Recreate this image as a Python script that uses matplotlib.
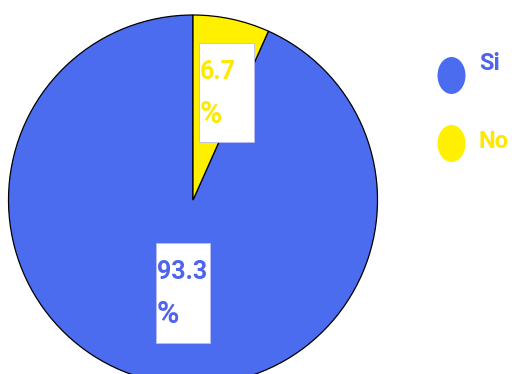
import matplotlib
matplotlib.use("Agg")
import matplotlib.pyplot as plt
from matplotlib.patches import Ellipse, Rectangle

# survey answers
categories = ["Si", "No"]
shares = [93.3, 6.7]
colors = ["#4B6CEF", "#FFF000"]
text_colors = ["#4F63EE", "#FFE800"]

font = ["Roboto", "DejaVu Sans"]

fig = plt.figure(figsize=(5.12, 3.74), dpi=100)

# pie axis: unit radius mapped to pixels (cx, cy, rx, ry)
cx, cy, rx, ry = 193, 200, 184.5, 185
ax = fig.add_axes([0, 0, 1, 1])
ax.pie(shares, colors=colors, startangle=90, counterclock=True, radius=1,
       wedgeprops=dict(edgecolor="black", linewidth=0.9))
ax.set_aspect("auto")
ax.set_xlim(-cx / rx, (512 - cx) / rx)
ax.set_ylim(-(374 - cy) / ry, cy / ry)
ax.axis("off")

# overlay in pixel units for labels and legend
ov = fig.add_axes([0, 0, 1, 1])
ov.set_xlim(0, 512)
ov.set_ylim(374, 0)
ov.axis("off")

# percentage boxes (Si, No)
boxes = [(156, 243, 54, 100), (199, 43, 55, 99)]
for (x, y, w, h), v, tc in zip(boxes, shares, text_colors):
    ov.add_patch(Rectangle((x, y), w, h, facecolor="white",
                           edgecolor="#B8BCF5", linewidth=0.6))
    ov.text(x + 1, y + 36, "%.1f" % v, color=tc, fontsize=18,
            fontweight="bold", family=font, va="baseline", ha="left")
    ov.text(x + 1, y + 80, "%", color=tc, fontsize=22,
            fontweight="bold", family=font, va="baseline", ha="left")

# legend
label_y = [63, 141]
for i, (lab, c, tc) in enumerate(zip(categories, colors, text_colors)):
    ey = 75.5 + i * 68
    ov.add_patch(Ellipse((451.5, ey), 28, 37, facecolor=c, edgecolor="none"))
    ov.text(479, label_y[i], lab, color=tc, fontsize=17, fontweight="bold",
            family=font, va="center", ha="left")

fig.savefig("out.png", dpi=100)
